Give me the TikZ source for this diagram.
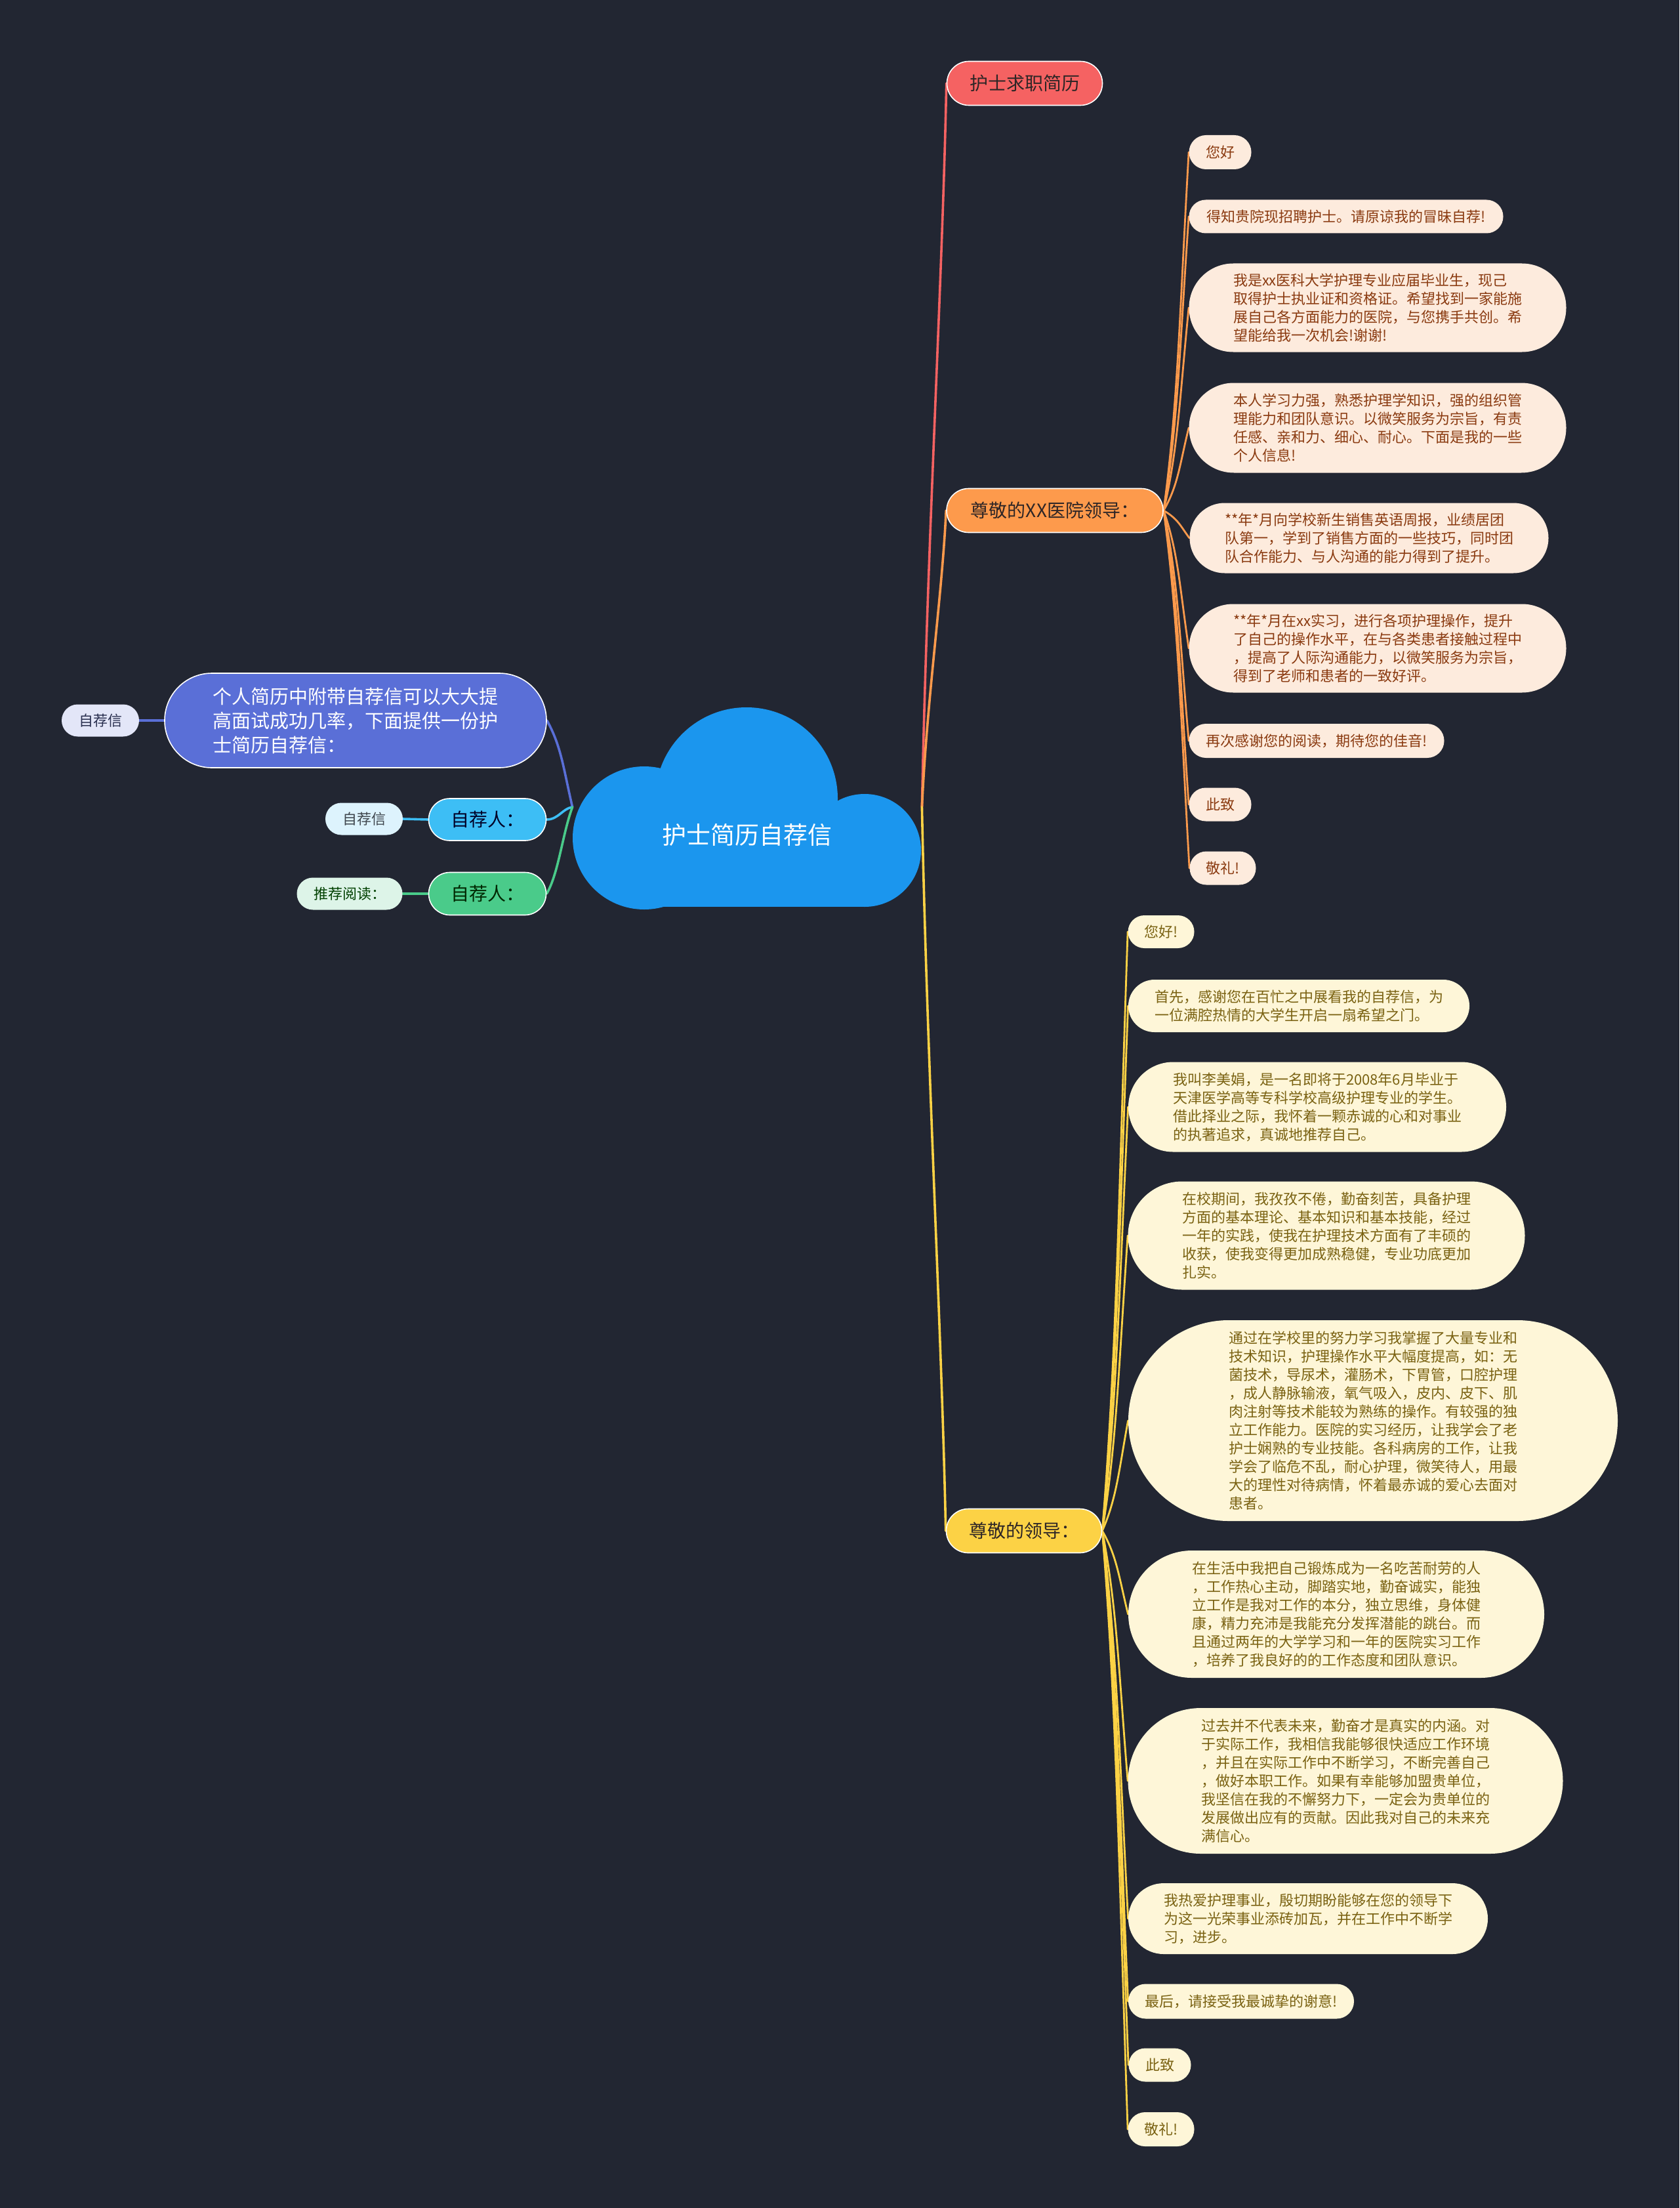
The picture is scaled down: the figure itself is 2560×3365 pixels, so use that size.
\documentclass[tikz,border=0pt]{standalone}
\usepackage{fontspec}
\setmainfont{Noto Sans CJK SC}
\definecolor{bg}{HTML}{222632}
\definecolor{cloudc}{HTML}{1B96EE}
\definecolor{redc}{HTML}{F56262}
\definecolor{orgc}{HTML}{FD9A4C}
\definecolor{yelc}{HTML}{FCD245}
\definecolor{indc}{HTML}{5A6FD7}
\definecolor{cyac}{HTML}{3DBEF5}
\definecolor{grnc}{HTML}{4ACB8A}
\definecolor{orgleaf}{HTML}{FDEBDD}
\definecolor{yelleaf}{HTML}{FEF6D8}
\definecolor{indleaf}{HTML}{E3E6F8}
\definecolor{cyaleaf}{HTML}{DDF3FD}
\definecolor{grnleaf}{HTML}{DDF4E8}
\definecolor{orgtext}{HTML}{8A3A10}
\definecolor{yeltext}{HTML}{7A6212}
\definecolor{darktext}{HTML}{2E2626}
\definecolor{navytext}{HTML}{2A3050}
\pgfdeclarelayer{back}
\pgfdeclarelayer{lines}
\pgfsetlayers{back,lines,main}
\begin{document}
\begin{tikzpicture}[x=0.5pt,y=-0.5pt,
  box/.style 2 args={rectangle, inner sep=0pt, align=left,
    minimum width=#1*0.5pt, minimum height=#2*0.5pt, rounded corners=#2*0.25pt-0.02pt},
  brbox/.style={draw=white, line width=0.8pt, text=darktext, font=\fontsize{14pt}{17pt}\selectfont},
  oleaf/.style={fill=orgleaf, text=orgtext, font=\fontsize{11pt}{14pt}\selectfont},
  yleaf/.style={fill=yelleaf, text=yeltext, font=\fontsize{11pt}{14pt}\selectfont},
  lchild/.style={font=\fontsize{11pt}{14pt}\selectfont},
  rootn/.style={rectangle, inner sep=0pt, minimum width=266pt, minimum height=152pt,
    text=white, font=\fontsize{18.5pt}{22pt}\selectfont, text height=56pt, text depth=0pt},
  rootline/.style={draw=#1, line width=1.8pt, line cap=round},
  leafline/.style={draw=#1, line width=1.4pt, line cap=round}
]
\useasboundingbox (0,0) rectangle (2560,3365);
\begin{pgfonlayer}{back}
  \fill[bg] (0,0) rectangle (2560,3365);
  \fill[cloudc] (982,1277) circle[radius=54.5pt];
  \fill[cloudc] (1138,1217) circle[radius=69.5pt];
  \fill[cloudc] (1318,1296) circle[radius=43pt];
  \fill[cloudc] (982,1250) rectangle (1318,1382);
\end{pgfonlayer}

% root
\node[rootn] (root) at (1139,1230) {护士简历自荐信};

% right branches
\node[box={237}{67}, brbox, fill=redc] (b1) at (1562,127) {护士求职简历};
\node[box={330}{67}, brbox, fill=orgc] (b2) at (1608,778) {尊敬的XX医院领导：};
\node[box={237}{67}, brbox, fill=yelc] (b3) at (1561,2333) {尊敬的领导：};

% orange leaves
\node[box={95}{52}, oleaf] (l1) at (1860,232) {您好};
\node[box={479}{51}, oleaf] (l2) at (2052,330) {得知贵院现招聘护士。请原谅我的冒昧自荐!};
\node[box={575}{135}, oleaf] (l3) at (2100,469) {我是xx医科大学护理专业应届毕业生，现己\\取得护士执业证和资格证。希望找到一家能施\\展自己各方面能力的医院，与您携手共创。希\\望能给我一次机会!谢谢!};
\node[box={575}{137}, oleaf] (l4) at (2100,652) {本人学习力强，熟悉护理学知识，强的组织管\\理能力和团队意识。以微笑服务为宗旨，有责\\任感、亲和力、细心、耐心。下面是我的一些\\个人信息!};
\node[box={547}{107}, oleaf] (l5) at (2087,820) {**年*月向学校新生销售英语周报，业绩居团\\队第一，学到了销售方面的一些技巧，同时团\\队合作能力、与人沟通的能力得到了提升。};
\node[box={575}{135}, oleaf] (l6) at (2100,988) {**年*月在xx实习，进行各项护理操作，提升\\了自己的操作水平，在与各类患者接触过程中\\，提高了人际沟通能力，以微笑服务为宗旨，\\得到了老师和患者的一致好评。};
\node[box={389}{52}, oleaf] (l7) at (2007,1129) {再次感谢您的阅读，期待您的佳音!};
\node[box={95}{51}, oleaf] (l8) at (1860,1226) {此致};
\node[box={101}{51}, oleaf] (l9) at (1864,1323) {敬礼!};

% yellow leaves
\node[box={101}{50}, yleaf] (y1) at (1770,1420) {您好!};
\node[box={520}{80}, yleaf] (y2) at (1980,1533) {首先，感谢您在百忙之中展看我的自荐信，为\\一位满腔热情的大学生开启一扇希望之门。};
\node[box={576}{137}, yleaf] (y3) at (2008,1687) {我叫李美娟，是一名即将于2008年6月毕业于\\天津医学高等专科学校高级护理专业的学生。\\借此择业之际，我怀着一颗赤诚的心和对事业\\的执著追求，真诚地推荐自己。};
\node[box={605}{165}, yleaf] (y4) at (2022,1883) {在校期间，我孜孜不倦，勤奋刻苦，具备护理\\方面的基本理论、基本知识和基本技能，经过\\一年的实践，使我在护理技术方面有了丰硕的\\收获，使我变得更加成熟稳健，专业功底更加\\扎实。};
\node[box={746}{306}, yleaf] (y5) at (2093,2165) {通过在学校里的努力学习我掌握了大量专业和\\技术知识，护理操作水平大幅度提高，如：无\\菌技术，导尿术，灌肠术，下胃管，口腔护理\\，成人静脉输液，氧气吸入，皮内、皮下、肌\\肉注射等技术能较为熟练的操作。有较强的独\\立工作能力。医院的实习经历，让我学会了老\\护士娴熟的专业技能。各科病房的工作，让我\\学会了临危不乱，耐心护理，微笑待人，用最\\大的理性对待病情，怀着最赤诚的爱心去面对\\患者。};
\node[box={634}{194}, yleaf] (y6) at (2037,2460) {在生活中我把自己锻炼成为一名吃苦耐劳的人\\，工作热心主动，脚踏实地，勤奋诚实，能独\\立工作是我对工作的本分，独立思维，身体健\\康，精力充沛是我能充分发挥潜能的跳台。而\\且通过两年的大学学习和一年的医院实习工作\\，培养了我良好的的工作态度和团队意识。};
\node[box={663}{222}, yleaf] (y7) at (2051,2714) {过去并不代表未来，勤奋才是真实的内涵。对\\于实际工作，我相信我能够很快适应工作环境\\，并且在实际工作中不断学习，不断完善自己\\，做好本职工作。如果有幸能够加盟贵单位，\\我坚信在我的不懈努力下，一定会为贵单位的\\发展做出应有的贡献。因此我对自己的未来充\\满信心。};
\node[box={548}{108}, yleaf] (y8) at (1994,2924) {我热爱护理事业，殷切期盼能够在您的领导下\\为这一光荣事业添砖加瓦，并在工作中不断学\\习，进步。};
\node[box={344}{53}, yleaf] (y9) at (1892,3050) {最后，请接受我最诚挚的谢意!};
\node[box={95}{51}, yleaf] (y10) at (1768,3147) {此致};
\node[box={101}{52}, yleaf] (y11) at (1770,3245) {敬礼!};

% left side
\node[box={582}{144}, draw=white, line width=0.8pt, fill=indc, text=white,
  font=\fontsize{14.5pt}{18.5pt}\selectfont] (lb1) at (542,1098) {个人简历中附带自荐信可以大大提\\高面试成功几率，下面提供一份护\\士简历自荐信：};
\node[box={118}{49}, lchild, fill=indleaf, text=navytext] (lb1c) at (153,1098) {自荐信};
\node[box={179}{64}, brbox, fill=cyac, text=black!85!blue] (lb2) at (743,1249) {自荐人：};
\node[box={118}{49}, lchild, fill=cyaleaf, text=black!80!cyan] (lb2c) at (555,1248) {自荐信};
\node[box={179}{65}, brbox, fill=grnc, text=black!85!green] (lb3) at (743,1362) {自荐人：};
\node[box={161}{49}, lchild, fill=grnleaf, text=black!75!green] (lb3c) at (533,1362) {推荐阅读：};

\begin{pgfonlayer}{lines}
  % root to right branches
  \draw[rootline=redc] (root.east) .. controls +(8,-400) and +(-6,300) .. (b1.west);
  \draw[rootline=orgc] (root.east) .. controls +(8,-170) and +(-6,130) .. (b2.west);
  \draw[rootline=yelc] (root.east) .. controls +(8,400) and +(-6,-300) .. (b3.west);
  % orange leaves
  \draw[leafline=orgc] (b2.east) .. controls +(22,-164) and +(-14,246) .. (l1.west);
  \draw[leafline=orgc] (b2.east) .. controls +(22,-134) and +(-14,202) .. (l2.west);
  \draw[leafline=orgc] (b2.east) .. controls +(22,-93) and +(-14,139) .. (l3.west);
  \draw[leafline=orgc] (b2.east) .. controls +(22,-38) and +(-14,57) .. (l4.west);
  \draw[leafline=orgc] (b2.east) .. controls +(22,13) and +(-14,-19) .. (l5.west);
  \draw[leafline=orgc] (b2.east) .. controls +(22,63) and +(-14,-95) .. (l6.west);
  \draw[leafline=orgc] (b2.east) .. controls +(22,105) and +(-14,-158) .. (l7.west);
  \draw[leafline=orgc] (b2.east) .. controls +(22,134) and +(-14,-202) .. (l8.west);
  \draw[leafline=orgc] (b2.east) .. controls +(22,164) and +(-14,-245) .. (l9.west);
  % yellow leaves
  \draw[leafline=yelc] (b3.east) .. controls +(22,-274) and +(-14,411) .. (y1.west);
  \draw[leafline=yelc] (b3.east) .. controls +(22,-240) and +(-14,360) .. (y2.west);
  \draw[leafline=yelc] (b3.east) .. controls +(22,-194) and +(-14,291) .. (y3.west);
  \draw[leafline=yelc] (b3.east) .. controls +(22,-135) and +(-14,203) .. (y4.west);
  \draw[leafline=yelc] (b3.east) .. controls +(22,-50) and +(-14,76) .. (y5.west);
  \draw[leafline=yelc] (b3.east) .. controls +(22,38) and +(-14,-57) .. (y6.west);
  \draw[leafline=yelc] (b3.east) .. controls +(22,114) and +(-14,-171) .. (y7.west);
  \draw[leafline=yelc] (b3.east) .. controls +(22,177) and +(-14,-266) .. (y8.west);
  \draw[leafline=yelc] (b3.east) .. controls +(22,215) and +(-14,-323) .. (y9.west);
  \draw[leafline=yelc] (b3.east) .. controls +(22,244) and +(-14,-366) .. (y10.west);
  \draw[leafline=yelc] (b3.east) .. controls +(22,274) and +(-14,-410) .. (y11.west);
  % left side
  \draw[rootline=indc] (root.west) .. controls +(-14,-60) and +(22,40) .. (lb1.east);
  \draw[rootline=cyac] (root.west) .. controls +(-15,2) and +(18,0) .. (lb2.east);
  \draw[rootline=grnc] (root.west) .. controls +(-15,40) and +(18,-30) .. (lb3.east);
  \draw[rootline=indc] (lb1c.east) -- (lb1.west);
  \draw[rootline=cyac] (lb2c.east) -- (lb2.west);
  \draw[rootline=grnc] (lb3c.east) -- (lb3.west);
\end{pgfonlayer}
\end{tikzpicture}
\end{document}
